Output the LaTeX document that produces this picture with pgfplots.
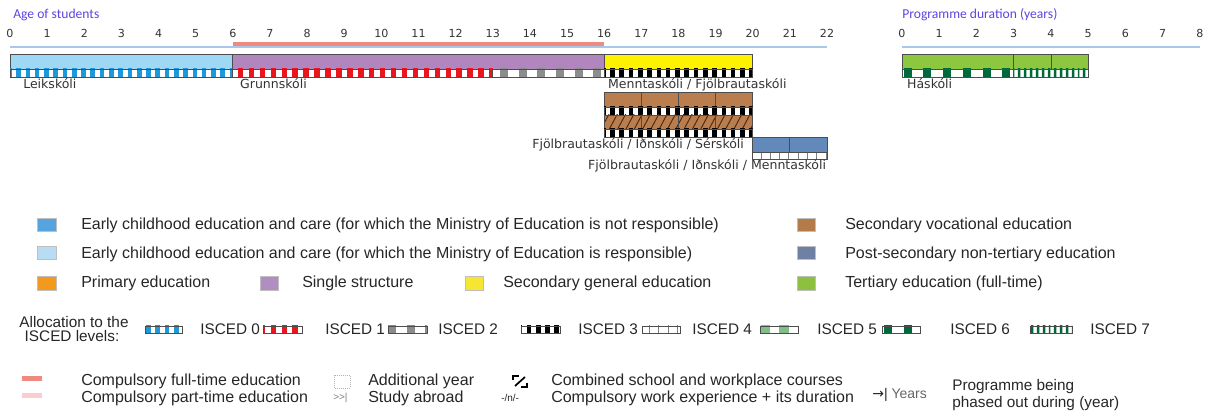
\documentclass[border=0pt]{standalone}
\usepackage{fontspec}
\setmainfont{Liberation Sans}
\newfontfamily\dv{DejaVu Sans}
\newfontfamily\carlito{Carlito}
\usepackage{pgfplots}
\pgfplotsset{compat=1.18}
\usetikzlibrary{patterns.meta}

\definecolor{leik}{HTML}{9ED8F5}
\definecolor{single}{HTML}{B185BE}
\definecolor{secgen}{HTML}{FFF200}
\definecolor{voc}{HTML}{B97D4E}
\definecolor{postsec}{HTML}{6189BA}
\definecolor{tert}{HTML}{8DC63F}
\definecolor{isczero}{HTML}{1E98D9}
\definecolor{iscone}{HTML}{E8161F}
\definecolor{isctwo}{HTML}{8C8C8C}
\definecolor{iscfive}{HTML}{7FBF8A}
\definecolor{iscsix}{HTML}{00683A}
\definecolor{axisblue}{HTML}{A8C8EA}
\definecolor{comp}{HTML}{F08A80}
\definecolor{part}{HTML}{F9CDD0}
\definecolor{titlecol}{HTML}{5B45E0}
\definecolor{txt}{HTML}{262626}
\definecolor{labc}{HTML}{333333}
\definecolor{lgecnot}{HTML}{55A4DD}
\definecolor{lgecyes}{HTML}{B9DCF5}
\definecolor{lgprim}{HTML}{F2991E}
\definecolor{lgsingle}{HTML}{B28DC2}
\definecolor{lgsec}{HTML}{F4E632}
\definecolor{lgvoc}{HTML}{B27B48}
\definecolor{lgpost}{HTML}{6E80A3}
\definecolor{lgtert}{HTML}{8CC03E}
\definecolor{bord}{HTML}{4D4D4D}
\definecolor{hatchcol}{HTML}{4A2A10}

\newcommand\legf{\fontsize{12}{14}\selectfont}
\newcommand\iscf{\fontsize{11.5}{13}\selectfont}
\newcommand\labf{\dv\fontsize{9.4}{11}\selectfont}
\newcommand\tickf{\dv\fontsize{8.3}{10}\selectfont}

\tikzset{
 isc0/.style={pattern={Lines[angle=90,distance=6.96pt,line width=3.48pt]},pattern color=isczero},
 isc1/.style={pattern={Lines[angle=90,distance=8.2pt,line width=4.1pt]},pattern color=iscone},
 isc2/.style={pattern={Lines[angle=90,distance=14pt,line width=6pt]},pattern color=isctwo},
 isc3/.style={pattern={Lines[angle=90,distance=6.96pt,line width=3.48pt]},pattern color=black},
 isc4/.style={pattern={Lines[angle=90,distance=6.96pt,line width=0.6pt]},pattern color=gray},
 isc5/.style={pattern={Lines[angle=90,distance=14pt,line width=7pt]},pattern color=iscfive},
 isc6/.style={pattern={Lines[angle=90,distance=14.8pt,line width=6pt]},pattern color=iscsix},
 isc7/.style={pattern={Lines[angle=90,distance=4.35pt,line width=2pt]},pattern color=iscsix},
 hatch/.style={pattern={Lines[angle=62,distance=5.5pt,line width=0.7pt]},pattern color=hatchcol},
}

% rectangle from data: x1 x2 ytop ybottom (pixel rows)
\newcommand\R[5]{\addplot[#5] coordinates {(#1,-#3)(#2,-#3)(#2,-#4)(#1,-#4)} --cycle;}
\newcommand\Strip[5]{\R{#1}{#2}{#3}{#4}{fill=white,draw=none,postaction={#5}}\R{#1}{#2}{#3}{#4}{draw=bord,line width=0.5pt}}
\newcommand\Bar[5]{\R{#1}{#2}{#3}{#4}{fill=#5,draw=bord,line width=0.6pt}}

\begin{document}
\begin{tikzpicture}
\useasboundingbox (0,0) rectangle (904.5pt,-312pt);

% ---------- canvas (pixel coordinates) for titles and legend ----------
\begin{axis}[at={(0pt,0pt)}, anchor=north west, scale only axis,
  width=904.5pt, height=312pt, xmin=0, xmax=1206, ymin=-416, ymax=0,
  hide axis, clip=false]
\node[anchor=base west, inner sep=0, font=\carlito\fontsize{10.2}{12}\selectfont, text=titlecol] at (axis cs:13,-19) {Age of students};
\node[anchor=base west, inner sep=0, font=\carlito\fontsize{10.2}{12}\selectfont, text=titlecol] at (axis cs:902,-19) {Programme duration (years)};

% colour legend
\filldraw[fill=lgecnot, draw=gray!50, line width=0.4pt] (axis cs:37,-218) rectangle (axis cs:56,-231);
\node[anchor=base west, inner sep=0, font=\legf, text=txt] at (axis cs:81,-230) {Early childhood education and care (for which the Ministry of Education is not responsible)};
\filldraw[fill=lgvoc, draw=gray!50, line width=0.4pt] (axis cs:797,-218) rectangle (axis cs:815,-231);
\node[anchor=base west, inner sep=0, font=\legf, text=txt] at (axis cs:845,-230) {Secondary vocational education};

\filldraw[fill=lgecyes, draw=gray!50, line width=0.4pt] (axis cs:37,-246) rectangle (axis cs:56,-259);
\node[anchor=base west, inner sep=0, font=\legf, text=txt] at (axis cs:81,-259) {Early childhood education and care (for which the Ministry of Education is responsible)};
\filldraw[fill=lgpost, draw=gray!50, line width=0.4pt] (axis cs:797,-246) rectangle (axis cs:815,-259);
\node[anchor=base west, inner sep=0, font=\legf, text=txt] at (axis cs:845,-259) {Post-secondary non-tertiary education};

\filldraw[fill=lgprim, draw=gray!50, line width=0.4pt] (axis cs:37,-276) rectangle (axis cs:56,-290);
\node[anchor=base west, inner sep=0, font=\legf, text=txt] at (axis cs:81,-288) {Primary education};
\filldraw[fill=lgsingle, draw=gray!50, line width=0.4pt] (axis cs:260,-276) rectangle (axis cs:278,-290);
\node[anchor=base west, inner sep=0, font=\legf, text=txt] at (axis cs:302,-288) {Single structure};
\filldraw[fill=lgsec, draw=gray!50, line width=0.4pt] (axis cs:465,-276) rectangle (axis cs:483,-290);
\node[anchor=base west, inner sep=0, font=\legf, text=txt] at (axis cs:503,-288) {Secondary general education};
\filldraw[fill=lgtert, draw=gray!50, line width=0.4pt] (axis cs:797,-276) rectangle (axis cs:815,-290);
\node[anchor=base west, inner sep=0, font=\legf, text=txt] at (axis cs:845,-288) {Tertiary education (full-time)};

% ISCED legend
\node[anchor=base, inner sep=0, font=\iscf, text=txt] at (axis cs:74,-328) {Allocation to the};
\node[anchor=base, inner sep=0, font=\iscf, text=txt] at (axis cs:72,-342) {ISCED levels:};
\R{145}{182}{326}{333}{fill=white,draw=none,postaction={isc0}}\R{145}{182}{326}{333}{draw=bord,line width=0.4pt}
\node[anchor=base west, inner sep=0, font=\iscf, text=txt] at (axis cs:200,-335) {ISCED 0};
\R{263}{302}{326}{333}{fill=white,draw=none,postaction={isc1}}\R{263}{302}{326}{333}{draw=bord,line width=0.4pt}
\node[anchor=base west, inner sep=0, font=\iscf, text=txt] at (axis cs:325,-335) {ISCED 1};
\R{388}{427}{326}{333}{fill=white,draw=none,postaction={isc2}}\R{388}{427}{326}{333}{draw=bord,line width=0.4pt}
\node[anchor=base west, inner sep=0, font=\iscf, text=txt] at (axis cs:438,-335) {ISCED 2};
\R{521}{560}{326}{333}{fill=white,draw=none,postaction={isc3}}\R{521}{560}{326}{333}{draw=bord,line width=0.4pt}
\node[anchor=base west, inner sep=0, font=\iscf, text=txt] at (axis cs:578,-335) {ISCED 3};
\R{642}{680}{326}{333}{fill=white,draw=none,postaction={isc4}}\R{642}{680}{326}{333}{draw=bord,line width=0.4pt}
\node[anchor=base west, inner sep=0, font=\iscf, text=txt] at (axis cs:692,-335) {ISCED 4};
\R{760}{798}{326}{333}{fill=white,draw=none,postaction={isc5}}\R{760}{798}{326}{333}{draw=bord,line width=0.4pt}
\node[anchor=base west, inner sep=0, font=\iscf, text=txt] at (axis cs:817,-335) {ISCED 5};
\R{882}{920}{326}{333}{fill=white,draw=none,postaction={isc6}}\R{882}{920}{326}{333}{draw=bord,line width=0.4pt}
\node[anchor=base west, inner sep=0, font=\iscf, text=txt] at (axis cs:950,-335) {ISCED 6};
\R{1030}{1072}{326}{333}{fill=white,draw=none,postaction={isc7}}\R{1030}{1072}{326}{333}{draw=bord,line width=0.4pt}
\node[anchor=base west, inner sep=0, font=\iscf, text=txt] at (axis cs:1090,-335) {ISCED 7};

% other legend items
\fill[comp] (axis cs:22,-376.5) rectangle (axis cs:42,-381);
\node[anchor=base west, inner sep=0, font=\legf, text=txt] at (axis cs:81,-386) {Compulsory full-time education};
\fill[part] (axis cs:22,-393.5) rectangle (axis cs:42,-398);
\node[anchor=base west, inner sep=0, font=\legf, text=txt] at (axis cs:81,-403) {Compulsory part-time education};

\draw[gray!60, densely dotted, line width=0.5pt] (axis cs:334,-375) rectangle (axis cs:350,-388);
\node[anchor=base west, inner sep=0, font=\legf, text=txt] at (axis cs:368,-386) {Additional year};
\node[anchor=base west, inner sep=0, font=\fontsize{7.5}{8}\selectfont, text=gray] at (axis cs:333,-401) {>{}>|};
\node[anchor=base west, inner sep=0, font=\legf, text=txt] at (axis cs:368,-403) {Study abroad};

\draw[line width=1pt] (axis cs:513,-380)--(axis cs:513,-376)--(axis cs:519,-376);
\draw[line width=1pt] (axis cs:527,-383)--(axis cs:527,-387)--(axis cs:521,-387);
\draw[line width=1.3pt] (axis cs:515,-386)--(axis cs:525,-377);
\node[anchor=base west, inner sep=0, font=\legf, text=txt] at (axis cs:551,-386) {Combined school and workplace courses};
\node[anchor=base west, inner sep=0, font=\fontsize{7.5}{8}\selectfont, text=txt] at (axis cs:501,-402) {-/n/-};
\node[anchor=base west, inner sep=0, font=\legf, text=txt] at (axis cs:551,-403) {Compulsory work experience + its duration};

\node[anchor=base west, inner sep=0, font=\fontsize{10.5}{11}\selectfont, text=txt] at (axis cs:872,-399) {{\dv →}| \textcolor{gray!80!black}{Years}};
\node[anchor=base west, inner sep=0, font=\fontsize{11.5}{13}\selectfont, text=txt] at (axis cs:952,-391) {Programme being};
\node[anchor=base west, inner sep=0, font=\fontsize{11.5}{13}\selectfont, text=txt] at (axis cs:952,-408) {phased out during (year)};
\end{axis}

% ---------- age of students axis ----------
\begin{axis}[at={(7.5pt,-35.25pt)}, anchor=north west, scale only axis,
  width=612.75pt, height=276.75pt, xmin=0, xmax=22, ymin=-416, ymax=-47,
  axis x line=top, axis y line=none,
  x axis line style={-, draw=axisblue, line width=1.4pt},
  xtick={0,...,22}, major tick length=0pt,
  /pgf/number format/assume math mode=true,
  xticklabel style={font=\tickf, text=labc, yshift=3.5pt},
  clip=false, enlargelimits=false]
\addplot[color=comp, line width=3pt] coordinates {(6,-44.3)(16,-44.3)};
% Leikskoli
\Bar{0}{6}{54}{69}{leik}
\Strip{0}{6}{69}{77}{isc0}
% Grunnskoli
\Bar{6}{16}{54}{69}{single}
\Strip{6}{13}{69}{77}{isc1}
\Strip{13}{16}{69}{77}{isc2}
% Menntaskoli / Fjolbrautaskoli
\Bar{16}{20}{54}{69}{secgen}
\Strip{16}{20}{69}{77}{isc3}
% vocational
\Bar{16}{17}{92}{107}{voc}
\Bar{17}{18}{92}{107}{voc}
\Bar{18}{19}{92}{107}{voc}
\Bar{19}{20}{92}{107}{voc}
\Strip{16}{20}{107}{115}{isc3}
\R{16}{17}{115}{129}{fill=voc,draw=bord,line width=0.6pt,postaction={hatch}}
\R{17}{18}{115}{129}{fill=voc,draw=bord,line width=0.6pt,postaction={hatch}}
\R{18}{19}{115}{129}{fill=voc,draw=bord,line width=0.6pt,postaction={hatch}}
\R{19}{20}{115}{129}{fill=voc,draw=bord,line width=0.6pt,postaction={hatch}}
\Strip{16}{20}{129}{137}{isc3}
% post-secondary
\Bar{20}{21}{137}{152}{postsec}
\Bar{21}{22}{137}{152}{postsec}
\Strip{20}{22}{152}{159}{isc4}
% labels
\node[anchor=base west, inner sep=0, font=\labf, text=labc] at (axis cs:0.35,-89) {Leikskóli};
\node[anchor=base west, inner sep=0, font=\labf, text=labc] at (axis cs:6.19,-89) {Grunnskóli};
\node[anchor=base west, inner sep=0, font=\labf, text=labc] at (axis cs:16.1,-89) {Menntaskóli / Fjölbrautaskóli};
\node[anchor=base east, inner sep=0, font=\labf, text=labc] at (axis cs:19.77,-149) {Fjölbrautaskóli / Iðnskóli / Sérskóli};
\node[anchor=base east, inner sep=0, font=\labf, text=labc] at (axis cs:21.98,-170) {Fjölbrautaskóli / Iðnskóli / Menntaskóli};
\end{axis}

% ---------- programme duration axis ----------
\begin{axis}[at={(676.5pt,-35.25pt)}, anchor=north west, scale only axis,
  width=223.5pt, height=276.75pt, xmin=0, xmax=8, ymin=-416, ymax=-47,
  axis x line=top, axis y line=none,
  x axis line style={-, draw=axisblue, line width=1.4pt},
  xtick={0,...,8}, major tick length=0pt,
  /pgf/number format/assume math mode=true,
  xticklabel style={font=\tickf, text=labc, yshift=3.5pt},
  clip=false, enlargelimits=false]
\Bar{0}{3}{54}{69}{tert}
\Bar{3}{4}{54}{69}{tert}
\Bar{4}{5}{54}{69}{tert}
\Strip{0}{3}{69}{77}{isc6}
\Strip{3}{5}{69}{77}{isc7}
\node[anchor=base west, inner sep=0, font=\labf, text=labc] at (axis cs:0.13,-89) {Háskóli};
\end{axis}
\end{tikzpicture}
\end{document}
